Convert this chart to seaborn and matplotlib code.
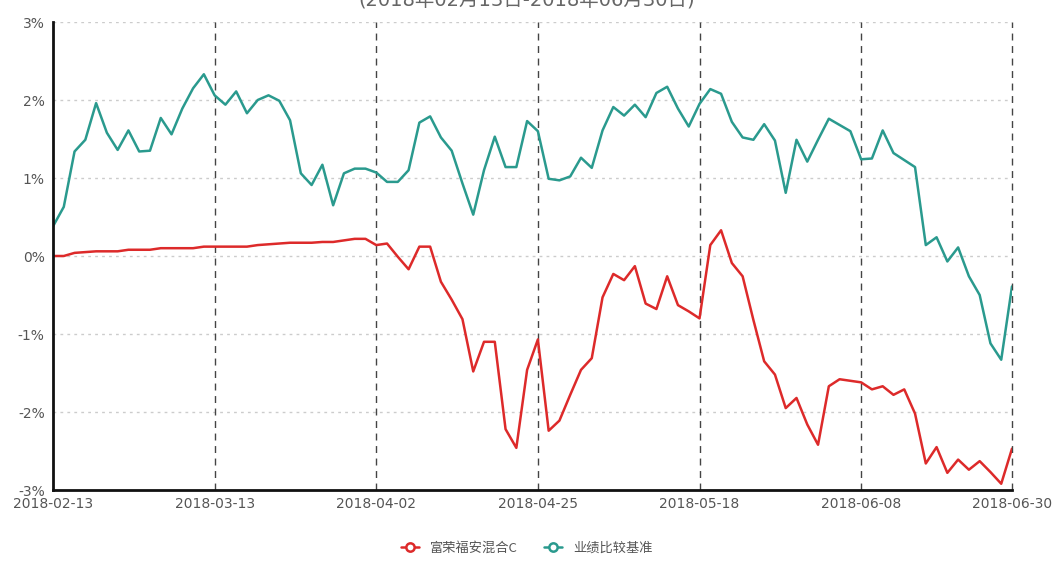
import numpy as np
import pandas as pd
import matplotlib
matplotlib.use('Agg')
import matplotlib.pyplot as plt
import seaborn as sns

# datos (rentabilidad acumulada en %)
fondo = [0.00, 0.00, 0.04, 0.05, 0.06, 0.06, 0.06, 0.08, 0.08, 0.08,
         0.10, 0.10, 0.10, 0.10, 0.12, 0.12, 0.12, 0.12, 0.12, 0.14,
         0.15, 0.16, 0.17, 0.17, 0.17, 0.18, 0.18, 0.20, 0.22, 0.22,
         0.14, 0.16, -0.01, -0.17, 0.12, 0.12, -0.33, -0.56, -0.81, -1.48,
         -1.10, -1.10, -2.22, -2.46, -1.46, -1.07, -2.24, -2.11, -1.78, -1.46,
         -1.31, -0.53, -0.23, -0.31, -0.13, -0.61, -0.68, -0.26, -0.63, -0.71,
         -0.80, 0.14, 0.33, -0.09, -0.26, -0.82, -1.35, -1.52, -1.95, -1.82,
         -2.16, -2.42, -1.67, -1.58, -1.60, -1.62, -1.71, -1.67, -1.78, -1.71,
         -2.02, -2.66, -2.45, -2.78, -2.61, -2.74, -2.63, -2.77, -2.92, -2.47]
base = [0.38, 0.63, 1.34, 1.49, 1.96, 1.58, 1.36, 1.61, 1.34, 1.35,
        1.77, 1.56, 1.89, 2.15, 2.33, 2.06, 1.94, 2.11, 1.83, 2.00,
        2.06, 1.99, 1.74, 1.06, 0.91, 1.17, 0.65, 1.06, 1.12, 1.12,
        1.07, 0.95, 0.95, 1.10, 1.71, 1.79, 1.52, 1.35, 0.93, 0.53,
        1.10, 1.53, 1.14, 1.14, 1.73, 1.60, 0.99, 0.97, 1.02, 1.26,
        1.13, 1.61, 1.91, 1.80, 1.94, 1.78, 2.09, 2.17, 1.89, 1.66,
        1.95, 2.14, 2.08, 1.72, 1.52, 1.49, 1.69, 1.48, 0.81, 1.49,
        1.21, 1.49, 1.76, 1.68, 1.60, 1.24, 1.25, 1.61, 1.32, 1.23,
        1.14, 0.14, 0.24, -0.07, 0.11, -0.26, -0.50, -1.12, -1.33, -0.39]
pos_fechas = [0, 15, 30, 45, 60, 75, 89]
fechas = ['2018-02-13', '2018-03-13', '2018-04-02', '2018-04-25',
          '2018-05-18', '2018-06-08', '2018-06-30']
valores_y = [-3, -2, -1, 0, 1, 2, 3]
etiquetas_y = ['-3%', '-2%', '-1%', '0%', '1%', '2%', '3%']

sns.set_style('white')
plt.rcParams['font.family'] = ['DejaVu Sans', 'Noto Sans CJK SC']

datos = pd.DataFrame({'dia': np.arange(len(fondo)), 'fondo': fondo, 'base': base})

fig = plt.figure(figsize=(10.53, 5.66), dpi=100)
ax = fig.add_axes([53/1053, 1-490/566, (1012-53)/1053, (490-22)/566])

# rejilla horizontal punteada
for v in valores_y[1:]:
    ax.axhline(v, color='#cccccc', lw=1, ls=(0, (2, 3)), zorder=0)
# lineas verticales discontinuas en las fechas
for p in pos_fechas[1:]:
    ax.axvline(p, color='#444444', lw=1, ls=(0, (5, 4)), zorder=0, clip_on=False)

sns.lineplot(data=datos, x='dia', y='fondo', ax=ax, color='#dd2a2a', lw=1.8)
sns.lineplot(data=datos, x='dia', y='base', ax=ax, color='#2a9a8e', lw=1.8)

ax.set_xlim(0, 89)
ax.set_ylim(-3, 3)
ax.set_xticks(pos_fechas)
ax.set_xticklabels(fechas)
ax.set_yticks(valores_y)
ax.set_yticklabels(etiquetas_y)
ax.tick_params(axis='both', length=0, labelsize=10, colors='#555555')
ax.tick_params(axis='y', pad=6)
ax.tick_params(axis='x', pad=5)
ax.set_xlabel('')
ax.set_ylabel('')
for lado in ['top', 'right']:
    ax.spines[lado].set_visible(False)
ax.spines['left'].set_color('#111111')
ax.spines['left'].set_linewidth(2)
ax.spines['bottom'].set_color('#111111')
ax.spines['bottom'].set_linewidth(2)

# titulo cortado por arriba
fig.text(0.5, 1.0, '(2018年02月13日-2018年06月30日)', ha='center', va='center',
         fontsize=14, color='#666666')

# leyenda
h1, = ax.plot([], [], color='#dd2a2a', lw=1.8, marker='o', ms=6, mfc='white', mew=1.8)
h2, = ax.plot([], [], color='#2a9a8e', lw=1.8, marker='o', ms=6, mfc='white', mew=1.8)
fig.legend([h1, h2], ['富荣福安混合C', '业绩比较基准'], loc='center',
           bbox_to_anchor=(0.5, 1-548/566), ncol=2, frameon=False,
           prop={'family': ['Noto Sans CJK SC', 'DejaVu Sans'], 'size': 9.5},
           labelcolor='#555555', handlelength=1.4, columnspacing=2)

fig.savefig('out.png', dpi=100)
